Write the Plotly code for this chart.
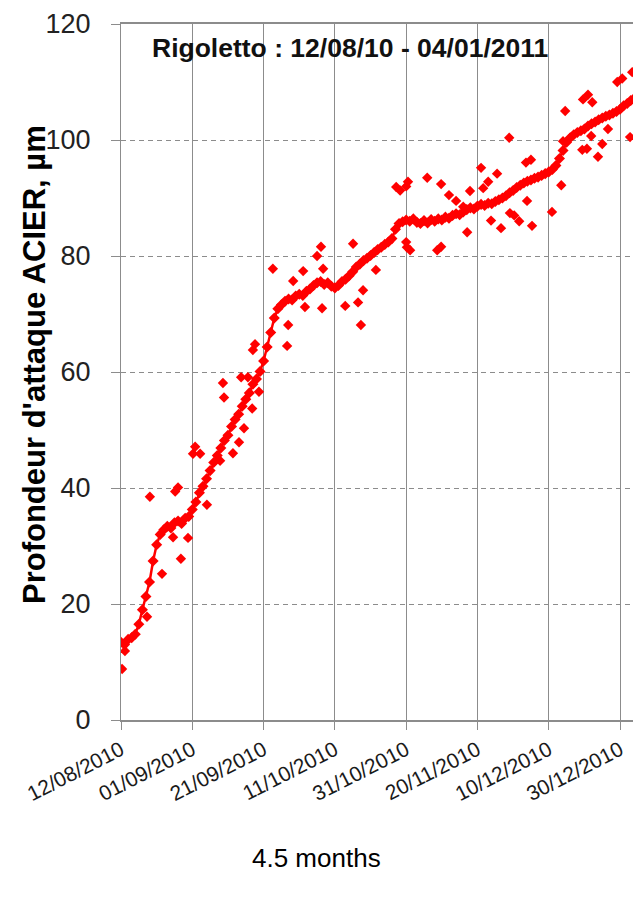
import pandas as pd
import plotly.graph_objects as go

# ---------------- data ----------------
start_date = "2010-08-12"

trend_values = [
    13.4, 13.0, 13.9, 14.2, 14.8, 16.5, 19.0, 21.3, 23.8, 27.4,
    30.2, 32.0, 32.8, 33.4, 33.1, 34.0, 34.3, 33.9, 34.8, 35.1,
    36.3, 37.6, 39.2, 40.3, 41.6, 43.0, 44.4, 45.6, 46.9, 48.2,
    49.1, 50.6, 51.8, 52.7, 54.1, 55.3, 56.4, 57.9, 58.8, 60.1,
    61.9, 64.3, 66.8, 69.3, 70.9, 71.6, 72.2, 72.6, 72.4, 73.1,
    73.4, 73.2, 73.9, 74.3, 74.9, 75.4, 75.6, 75.1, 75.4, 74.8,
    74.5, 74.9, 75.6, 76.0, 76.6, 77.3, 78.1, 78.6, 79.2, 79.6,
    80.1, 80.6, 81.1, 81.5, 82.0, 82.4, 83.0, 84.6, 85.6, 85.9,
    86.2, 86.0, 86.4, 85.8, 85.6, 86.1, 85.7, 86.3, 86.0, 86.4,
    86.2, 86.7, 86.5, 87.0, 87.3, 87.1, 87.6, 88.0, 88.3, 88.1,
    88.6, 88.9, 88.7, 89.1, 89.0, 89.4, 89.7, 90.0, 90.4, 90.9,
    91.3, 91.8, 92.2, 92.6, 92.9, 93.1, 93.4, 93.6, 93.9, 94.2,
    94.5, 94.9, 95.6, 96.8, 98.2, 99.6, 100.4, 100.9, 101.3, 101.6,
    101.9, 102.4, 102.8, 103.1, 103.5, 103.8, 104.1, 104.3, 104.6, 104.9,
    105.3, 105.9, 106.3, 106.8, 107.2,
]

# scattered individual readings: day offset from start, value (µm)
scatter_days = [
    0.3, 1.1, 7.3, 11.5, 8.1, 14.6, 16.8, 18.8, 15.2, 16.0,
    24.1, 20.2, 20.8, 22.2, 27.8, 28.6, 28.9, 31.4, 33.1, 34.5,
    36.8, 38.7, 33.7, 35.6, 37.0, 37.6, 46.6, 46.9, 42.6, 48.3,
    51.1, 51.6, 55.0, 56.1, 56.7, 56.4, 62.9, 66.5, 67.3, 67.9,
    65.1, 71.5, 77.2, 78.3, 80.0, 80.5, 80.0, 80.2, 81.1, 85.9,
    88.7, 89.8, 89.8, 92.0, 94.0, 96.0, 97.1, 97.9, 101.0, 101.6,
    103.0, 103.8, 105.5, 106.6, 108.9, 109.1, 110.3, 111.7, 113.6, 115.0,
    113.9, 115.3, 120.9, 123.5, 124.0, 124.6, 129.4, 130.7, 129.6, 131.0,
    132.2, 131.9, 133.8, 135.0, 136.6, 139.2, 140.6, 142.8, 143.4,
]
scatter_values = [
    8.8, 11.9, 17.8, 25.2, 38.5, 31.5, 27.8, 31.4, 39.4, 40.1,
    37.1, 45.9, 47.1, 45.9, 44.7, 58.1, 55.6, 46.0, 47.9, 50.3,
    53.7, 56.6, 59.1, 59.1, 63.8, 64.8, 64.5, 68.1, 77.8, 75.7,
    77.4, 71.2, 80.0, 81.6, 77.8, 71.0, 71.4, 72.0, 68.1, 74.1,
    82.1, 77.6, 91.9, 91.3, 92.0, 92.8, 82.4, 81.5, 81.0, 93.5,
    81.0, 81.6, 92.4, 90.5, 89.5, 88.5, 84.1, 91.2, 95.2, 91.7,
    92.8, 86.1, 94.2, 84.8, 100.4, 87.4, 87.0, 86.0, 96.1, 96.6,
    89.5, 85.2, 87.6, 92.2, 99.8, 105.0, 98.3, 98.5, 107.0, 107.8,
    106.5, 100.7, 97.1, 99.3, 101.9, 110.0, 110.6, 100.5, 111.7,
]

tick_dates = ["2010-08-12", "2010-09-01", "2010-09-21", "2010-10-11",
              "2010-10-31", "2010-11-20", "2010-12-10", "2010-12-30"]
tick_labels = ["12/08/2010", "01/09/2010", "21/09/2010", "11/10/2010",
               "31/10/2010", "20/11/2010", "10/12/2010", "30/12/2010"]
y_ticks = [0, 20, 40, 60, 80, 100, 120]

title_text = "Rigoletto : 12/08/10 - 04/01/2011"
y_title = "Profondeur d'attaque ACIER, µm"
bottom_text = "4.5 months"

# ---------------- figure ----------------
t0 = pd.Timestamp(start_date)
trend_x = pd.date_range(start_date, periods=len(trend_values), freq="D")
scatter_x = [t0 + pd.to_timedelta(d, unit="D") for d in scatter_days]

RED = "#FF0000"
FONT = "Arial, 'Liberation Sans', sans-serif"

fig = go.Figure()
fig.add_trace(go.Scatter(
    x=scatter_x, y=scatter_values, mode="markers",
    marker=dict(symbol="diamond", size=8, color=RED, line=dict(width=0)),
    showlegend=False, hoverinfo="skip"))
fig.add_trace(go.Scatter(
    x=trend_x, y=trend_values, mode="lines+markers",
    line=dict(color=RED, width=2.5),
    marker=dict(symbol="diamond", size=8.5, color=RED, line=dict(width=0)),
    showlegend=False, hoverinfo="skip"))

GRID = "#8c8c8c"
fig.update_layout(
    width=633, height=909,
    margin=dict(l=121, r=0, t=24, b=189, pad=0),
    paper_bgcolor="white", plot_bgcolor="white",
    font=dict(family=FONT, color="#1a1a1a"),
    xaxis=dict(
        type="date",
        range=["2010-08-12", "2011-01-02 15:00"],
        tickvals=tick_dates, ticktext=tick_labels,
        tickangle=-27, tickfont=dict(size=21, color="#1a1a1a", family=FONT),
        showgrid=True, gridcolor=GRID, gridwidth=1,
        ticks="outside", ticklen=8, tickcolor=GRID,
        showline=True, linecolor=GRID, linewidth=1.5, mirror=True,
        zeroline=False,
    ),
    yaxis=dict(
        range=[0, 120], tickvals=y_ticks,
        tickfont=dict(size=27, color="#222222", family=FONT),
        showgrid=True, gridcolor=GRID, gridwidth=1, griddash="5px,4px",
        ticks="outside", ticklen=9, tickcolor=GRID,
        ticklabelstandoff=15,
        showline=True, linecolor=GRID, linewidth=1,
        zeroline=False,
    ),
    annotations=[
        dict(text="<b>" + title_text + "</b>", xref="paper", yref="paper",
             x=(150 - 121) / 512, y=(720 - 48) / 696, xanchor="left", yanchor="middle",
             showarrow=False, font=dict(size=26.5, color="#111111", family=FONT)),
        dict(text="<b>" + y_title + "</b>", xref="paper", yref="paper",
             x=(34 - 121) / 512, y=(720 - 365) / 696, xanchor="center", yanchor="middle",
             textangle=-90, showarrow=False,
             font=dict(size=31, color="#000000", family=FONT)),
        dict(text=bottom_text, xref="paper", yref="paper",
             x=(316 - 121) / 512, y=(720 - 858) / 696, xanchor="center", yanchor="middle",
             showarrow=False, font=dict(size=26, color="#000000", family=FONT)),
    ],
)

fig.write_html("out.html")
